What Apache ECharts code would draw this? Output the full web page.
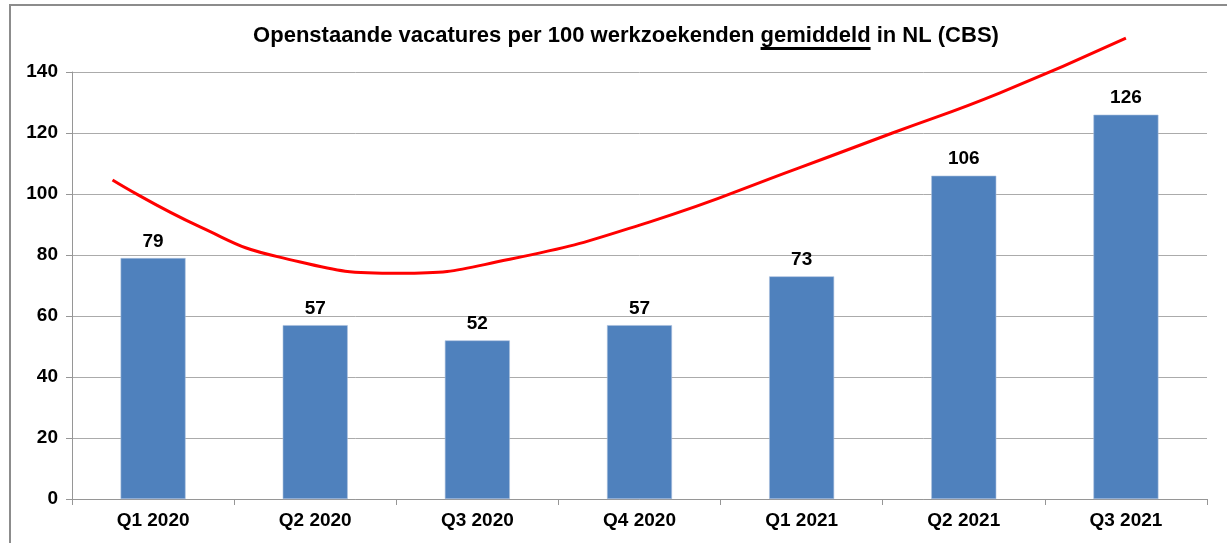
<!DOCTYPE html>
<html style="height: 100%">
<head>
    <meta charset="UTF-8">
    <title>Openstaande vacatures per 100 werkzoekenden</title>
    <script src="https://cdn.jsdelivr.net/npm/echarts/dist/echarts.min.js"></script>
    <style>
        #main {
            width: 1227px;
            height: 543px;
        }
    </style>
</head>
<body style="height: 100%; margin: 0; background: #fff">
    <div id="main"></div>
    <script type="text/javascript">
        // kwartalen en waarden (CBS)
        var quarters = ['Q1 2020', 'Q2 2020', 'Q3 2020', 'Q4 2020', 'Q1 2021', 'Q2 2021', 'Q3 2021'];
        var vacatures = [79, 57, 52, 57, 73, 106, 126];
        var trendX = [-0.25, 0.29, 0.78, 1.52, 2.2, 3.06, 3.98, 4.56, 5.22, 6.0];
        var trendY = [104.6, 89.2, 79.3, 74.0, 78.6, 90.8, 108.5, 120.0, 133.1, 151.1];
        var yTicks = [0, 20, 40, 60, 80, 100, 120, 140];

        var fontFam = '"Liberation Sans", Arial, sans-serif';
        var chartDom = document.getElementById('main');
        var myChart = echarts.init(chartDom);

        var trendData = trendX.map(function (x, i) { return [x, trendY[i]]; });

        var underline = new echarts.graphic.LinearGradient(0, 0, 0, 1, [
            { offset: 0, color: 'rgba(0,0,0,0)' },
            { offset: 0.9, color: 'rgba(0,0,0,0)' },
            { offset: 0.9, color: '#000' },
            { offset: 1, color: '#000' }
        ]);

        var option = {
            animation: false,
            title: {
                text: '{a|Openstaande vacatures per 100 werkzoekenden }{u|gemiddeld}{a| in NL (CBS)}',
                left: 621,
                textAlign: 'center',
                top: 20,
                textStyle: {
                    rich: {
                        a: { fontSize: 22, fontWeight: 'bold', color: '#000', fontFamily: fontFam,
                             padding: [0, 0, 3, 0] },
                        u: { fontSize: 22, fontWeight: 'bold', color: '#000', fontFamily: fontFam,
                             backgroundColor: underline, padding: [0, 0, 3, 0] }
                    }
                }
            },
            graphic: [{
                type: 'rect',
                shape: { x: 10, y: 5, width: 1400, height: 700 },
                style: { fill: 'none', stroke: '#8c8c8c', lineWidth: 2 },
                silent: true
            }],
            grid: { left: 72, right: 20, top: 72, bottom: 44 },
            xAxis: [{
                type: 'category',
                data: quarters,
                axisLine: { lineStyle: { color: '#969696', width: 1 } },
                axisTick: { show: true, length: 6, lineStyle: { color: '#969696' } },
                axisLabel: { color: '#000', fontWeight: 'bold', fontSize: 19, fontFamily: fontFam, margin: 12 }
            }, {
                type: 'value',
                min: -0.5,
                max: 6.5,
                show: false
            }],
            yAxis: {
                type: 'value',
                min: 0,
                max: 140,
                interval: 20,
                axisLine: { show: true, onZero: false, lineStyle: { color: '#969696' } },
                axisTick: { show: true, length: 6, lineStyle: { color: '#969696' } },
                axisLabel: {
                    color: '#000', fontWeight: 'bold', fontSize: 19, fontFamily: fontFam, margin: 14,
                    formatter: function (v) { return yTicks.indexOf(v) >= 0 ? String(v) : ''; }
                },
                splitLine: { lineStyle: { color: '#ababab', width: 1 } }
            },
            series: [{
                type: 'bar',
                data: vacatures,
                barWidth: 65,
                itemStyle: { color: '#4f81bd', borderColor: '#a9c0de', borderWidth: 0.6 },
                label: {
                    show: true,
                    position: 'top',
                    distance: 7,
                    color: '#000',
                    fontWeight: 'bold',
                    fontSize: 19,
                    fontFamily: fontFam
                },
                z: 2
            }, {
                type: 'line',
                xAxisIndex: 1,
                data: trendData,
                smooth: true,
                clip: false,
                showSymbol: false,
                lineStyle: { color: '#ff0000', width: 3 },
                z: 3
            }]
        };

        myChart.setOption(option);
    </script>
</body>
</html>
